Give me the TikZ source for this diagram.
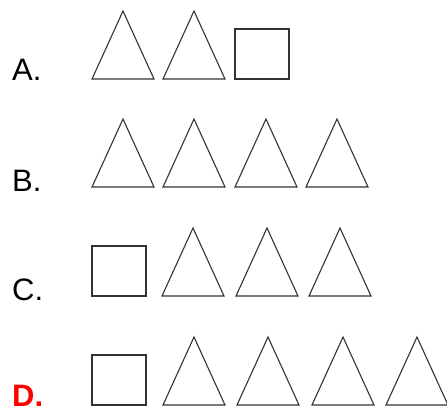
\documentclass[tikz,border=0pt]{standalone}
\usepackage{fontspec}
\setmainfont{Liberation Sans}
\usetikzlibrary{positioning}
\definecolor{red}{rgb}{1,0,0}

\begin{document}
\begin{tikzpicture}[x=1pt,y=-1pt]
\useasboundingbox (0,0) rectangle (447,413);

% 1. Stile definieren
\tikzset{
  shape line/.style={draw=black!80, line width=1.1pt, line join=miter},
  tri/.pic={\draw[shape line] (-31,0) -- (0,-68) -- (31,0) -- cycle;},
  sq/.pic={\draw[shape line] (0,0) rectangle (54,-50);},
  answer/.style={anchor=base west, inner sep=0pt, font=\fontsize{31}{36}\selectfont}
}

% 2. Beschriftungen
\node [answer] (la) at (12,80) {A.};
\node [answer] (lb) at (12,191) {B.};
\node [answer] (lc) at (12,300) {C.};
\node [answer, text=red, font=\fontsize{31}{36}\selectfont\bfseries] (ld) at (12,406) {D.};

% 3. Zeile A
\pic at (123,79) {tri};
\pic at (194,79) {tri};
\pic at (235,79) {sq};

% 4. Zeile B
\foreach \x in {123,194,266,337}
  \pic at (\x,187) {tri};

% 5. Zeile C
\pic at (92,296) {sq};
\foreach \x in {193,267,340}
  \pic at (\x,296) {tri};

% 6. Zeile D
\pic at (92,405) {sq};
\foreach \x in {194,268,343,417}
  \pic at (\x,405) {tri};

\end{tikzpicture}
\end{document}
